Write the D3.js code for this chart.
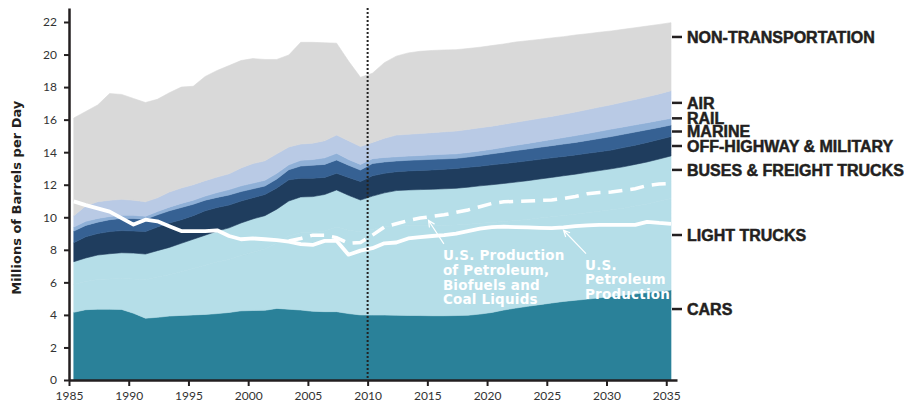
<!DOCTYPE html>
<html>
<head>
<meta charset="utf-8">
<script src="https://cdn.jsdelivr.net/npm/d3@7"></script>
<style>
  body { margin: 0; background: #fff; }
  .tick text { font-family: Lato, "Noto Sans", sans-serif; font-size: 12px; fill: #333; }
  .label { font-family: "Liberation Sans", Arial, sans-serif; font-weight: bold; font-size: 16px; fill: #231f20; stroke: #231f20; stroke-width: 0.5px; }
  .note { font-family: "DejaVu Sans", sans-serif; font-weight: bold; font-size: 13.5px; letter-spacing: 0.2px; fill: #fff; }
</style>
</head>
<body>
<svg width="904" height="404"></svg>
<script>

// years of the series (history to 2010, projection after)
var years = d3.range(1985, 2036);

// millions of barrels per day, by mode
var cars = [4.16,4.32,4.35,4.35,4.34,4.10,3.80,3.85,3.93,3.97,4.00,4.03,4.08,4.15,4.25,4.27,4.28,4.40,4.35,4.30,
    4.22,4.20,4.20,4.08,4.00,3.99,3.99,3.98,3.97,3.96,3.95,3.95,3.96,3.98,4.05,4.15,4.30,4.42,4.53,4.63,
    4.73,4.83,4.90,4.97,5.05,5.13,5.21,5.29,5.37,5.45,5.53];
var lightTrucks = [1.71,1.73,1.83,1.86,1.90,2.10,2.36,2.48,2.54,2.68,2.85,3.02,3.17,3.25,3.40,3.58,3.77,4.00,4.50,4.75,
    4.83,4.95,5.20,5.12,5.11,5.26,5.41,5.51,5.53,5.54,5.55,5.56,5.56,5.59,5.58,5.53,5.44,5.38,5.34,5.32,
    5.30,5.28,5.29,5.31,5.32,5.33,5.35,5.40,5.45,5.53,5.62];
var busesTrucks = [1.40,1.45,1.50,1.55,1.58,1.60,1.58,1.62,1.68,1.75,1.80,1.85,1.90,1.95,2.00,2.05,2.05,2.10,2.15,2.20,
    2.22,2.25,2.28,2.15,1.95,2.05,2.10,2.15,2.18,2.20,2.22,2.24,2.26,2.28,2.30,2.32,2.34,2.36,2.38,2.40,
    2.42,2.44,2.46,2.48,2.50,2.52,2.54,2.56,2.58,2.60,2.62];
var offHighway = [1.17,1.30,1.32,1.36,1.36,1.36,1.38,1.45,1.50,1.45,1.45,1.50,1.45,1.40,1.35,1.30,1.30,1.30,1.30,1.15,
    1.13,1.05,1.02,1.10,1.14,1.25,1.20,1.16,1.17,1.18,1.19,1.20,1.22,1.22,1.21,1.22,1.22,1.22,1.22,1.21,
    1.20,1.19,1.18,1.17,1.16,1.15,1.18,1.18,1.20,1.20,1.19];
var marine = [0.71,0.70,0.70,0.73,0.75,0.77,0.76,0.75,0.75,0.75,0.70,0.65,0.62,0.62,0.58,0.55,0.52,0.55,0.62,0.75,
    0.80,0.80,0.82,0.75,0.70,0.75,0.70,0.66,0.65,0.65,0.65,0.64,0.62,0.63,0.66,0.68,0.70,0.72,0.73,0.74,
    0.75,0.76,0.77,0.79,0.81,0.83,0.82,0.81,0.78,0.74,0.71];
var rail = [0.25,0.25,0.23,0.20,0.19,0.19,0.18,0.20,0.22,0.25,0.25,0.25,0.30,0.33,0.35,0.35,0.35,0.35,0.30,0.35,
    0.35,0.40,0.41,0.35,0.35,0.30,0.28,0.26,0.26,0.27,0.28,0.28,0.28,0.28,0.28,0.28,0.30,0.32,0.34,0.36,
    0.38,0.40,0.42,0.43,0.44,0.46,0.45,0.44,0.43,0.43,0.41];
var air = [0.70,0.95,1.02,1.00,0.98,0.93,0.89,0.85,0.93,0.95,0.95,0.95,0.95,0.97,1.10,1.20,1.20,1.20,1.10,1.00,
    1.00,1.05,1.12,1.15,1.10,1.00,1.17,1.33,1.34,1.35,1.36,1.38,1.40,1.42,1.42,1.42,1.42,1.42,1.42,1.42,
    1.42,1.43,1.45,1.47,1.49,1.50,1.53,1.56,1.59,1.63,1.70];
var nonTransport = [6.00,5.80,5.95,6.55,6.45,6.25,6.10,6.05,6.10,6.20,6.05,6.40,6.55,6.65,6.60,6.45,6.23,5.80,5.65,6.25,
    6.20,6.02,5.65,4.90,4.25,4.25,4.65,4.85,5.00,5.05,5.05,5.03,5.00,4.97,4.95,4.95,4.93,4.93,4.89,4.85,
    4.82,4.77,4.73,4.66,4.60,4.53,4.47,4.41,4.35,4.27,4.18];

// domestic supply lines
var petroleum = [10.98,10.75,10.55,10.35,9.95,9.55,9.85,9.75,9.45,9.15,9.15,9.15,9.20,8.85,8.65,8.70,8.65,8.60,8.50,8.35,
    8.30,8.55,8.55,7.70,7.95,8.10,8.40,8.45,8.70,8.78,8.85,8.90,9.00,9.15,9.30,9.40,9.42,9.40,9.38,9.35,
    9.33,9.38,9.45,9.50,9.53,9.53,9.53,9.53,9.72,9.65,9.60];
var petroBioYears = d3.range(2003, 2036);
var petroBio = [8.55,8.70,8.90,8.90,8.75,8.40,8.45,8.90,9.40,9.60,9.80,9.95,10.05,10.15,10.30,10.45,10.65,10.85,10.95,10.98,
    11.00,11.03,11.06,11.15,11.28,11.45,11.52,11.55,11.65,11.75,11.95,12.05,12.08];

var layerKeys = ["cars", "lightTrucks", "busesTrucks", "offHighway", "marine", "rail", "air", "nonTransport"];
var layerNames = ["CARS", "LIGHT TRUCKS", "BUSES & FREIGHT TRUCKS", "OFF-HIGHWAY & MILITARY", "MARINE", "RAIL", "AIR", "NON-TRANSPORTATION"];
var layerColors = ["#2a8199", "#b5dee8", "#b5dee8", "#1f3d5e", "#366193", "#8fb0d7", "#b9cae5", "#d9d9d9"];
var labelLevels = [4.36, 8.91, 12.91, 14.38, 15.27, 16.08, 17.03, 21.08];

var yTicks = d3.range(0, 23, 2);
var xTicks = d3.range(1985, 2036, 5);
var splitYear = 2010;

var svg = d3.select("svg");

var x = d3.scaleLinear().domain([1985, 2035.9]).range([69, 677]);
var y = d3.scaleLinear().domain([0, 22.86]).range([380, 8]);
var shift = 0.4; // data drawn at mid-year

// build table for the stack
var series = [cars, lightTrucks, busesTrucks, offHighway, marine, rail, air, nonTransport];
var table = years.map(function (yr, i) {
    var row = {year: yr};
    layerKeys.forEach(function (k, j) { row[k] = series[j][i]; });
    return row;
});
var stacked = d3.stack().keys(layerKeys)(table);

var area = d3.area()
    .x(function (d) { return x(d.data.year + shift); })
    .y0(function (d) { return y(d[0]); })
    .y1(function (d) { return y(d[1]); });

svg.append("g").selectAll("path")
    .data(stacked)
    .enter().append("path")
    .attr("d", area)
    .attr("fill", function (d, i) { return layerColors[i]; })
    .attr("stroke", function (d, i) { return layerColors[i]; })
    .attr("stroke-width", 0.6);

// supply lines
var line = d3.line()
    .x(function (d) { return x(d[0] + shift); })
    .y(function (d) { return y(d[1]); });

svg.append("path")
    .datum(petroBioYears.map(function (yr, i) { return [yr, petroBio[i]]; }))
    .attr("d", line)
    .attr("fill", "none")
    .attr("stroke", "#fff")
    .attr("stroke-width", 3.5)
    .attr("stroke-dasharray", "14,8");

svg.append("path")
    .datum(years.map(function (yr, i) { return [yr, petroleum[i]]; }))
    .attr("d", line)
    .attr("fill", "none")
    .attr("stroke", "#fff")
    .attr("stroke-width", 3.8)
    .attr("stroke-linejoin", "round");

// annotations
function note(lines, year, value, tipYear, tipValue) {
    var g = svg.append("g");
    var tx = x(year), ty = y(value);
    g.selectAll("text")
        .data(lines)
        .enter().append("text")
        .attr("class", "note")
        .attr("x", tx)
        .attr("y", function (d, i) { return ty + 15 + i * 14.8; })
        .text(function (d) { return d; });
    var x1 = tx + 1, y1 = ty - 1, x2 = x(tipYear), y2 = y(tipValue);
    var ang = Math.atan2(y1 - y2, x1 - x2);
    g.append("path")
        .attr("d", "M" + x1 + "," + y1 + "L" + x2 + "," + y2 +
            "M" + (x2 + 7 * Math.cos(ang - 0.45)) + "," + (y2 + 7 * Math.sin(ang - 0.45)) +
            "L" + x2 + "," + y2 +
            "L" + (x2 + 7 * Math.cos(ang + 0.45)) + "," + (y2 + 7 * Math.sin(ang + 0.45)))
        .attr("fill", "none")
        .attr("stroke", "#fff")
        .attr("stroke-width", 1.2);
}
note(["U.S. Production", "of Petroleum,", "Biofuels and", "Coal Liquids"], 2016.3, 8.3, 2015.1, 9.8);
note(["U.S.", "Petroleum", "Production"], 2028.2, 7.7, 2026.4, 9.2);

// history / projection divider
svg.append("line")
    .attr("x1", x(splitYear)).attr("x2", x(splitYear))
    .attr("y1", y.range()[1]).attr("y2", y(0))
    .attr("stroke", "#222")
    .attr("stroke-width", 2)
    .attr("stroke-dasharray", "2,2");

// axes
var xAxis = svg.append("g")
    .attr("transform", "translate(0," + y(0) + ")")
    .call(d3.axisBottom(x).tickValues(xTicks).tickSize(6).tickSizeOuter(0).tickPadding(5).tickFormat(d3.format("d")));
var yAxis = svg.append("g")
    .attr("transform", "translate(" + x(1985) + ",0)")
    .call(d3.axisLeft(y).tickValues(yTicks).tickSize(5).tickSizeOuter(0).tickPadding(7));

[xAxis, yAxis].forEach(function (a) {
    a.select(".domain").attr("stroke", "#231f20").attr("stroke-width", 2.5);
    a.selectAll(".tick line").attr("stroke", "#231f20").attr("stroke-width", 2);
});

svg.append("text")
    .attr("transform", "translate(21," + y(11.2) + ") rotate(-90)")
    .attr("text-anchor", "middle")
    .style("font-family", "'DejaVu Sans', sans-serif")
    .style("font-weight", "bold")
    .style("font-size", "13px")
    .style("fill", "#231f20")
    .text("Millions of Barrels per Day");

// category labels on the right
var labels = svg.append("g").selectAll("g")
    .data(layerNames)
    .enter().append("g")
    .attr("transform", function (d, i) { return "translate(0," + y(labelLevels[i]) + ")"; });
labels.append("line")
    .attr("x1", 672).attr("x2", 682)
    .attr("stroke", "#231f20")
    .attr("stroke-width", 2.5);
labels.append("text")
    .attr("class", "label")
    .attr("x", 687)
    .attr("dy", "0.36em")
    .text(function (d) { return d; });

</script>
</body>
</html>
